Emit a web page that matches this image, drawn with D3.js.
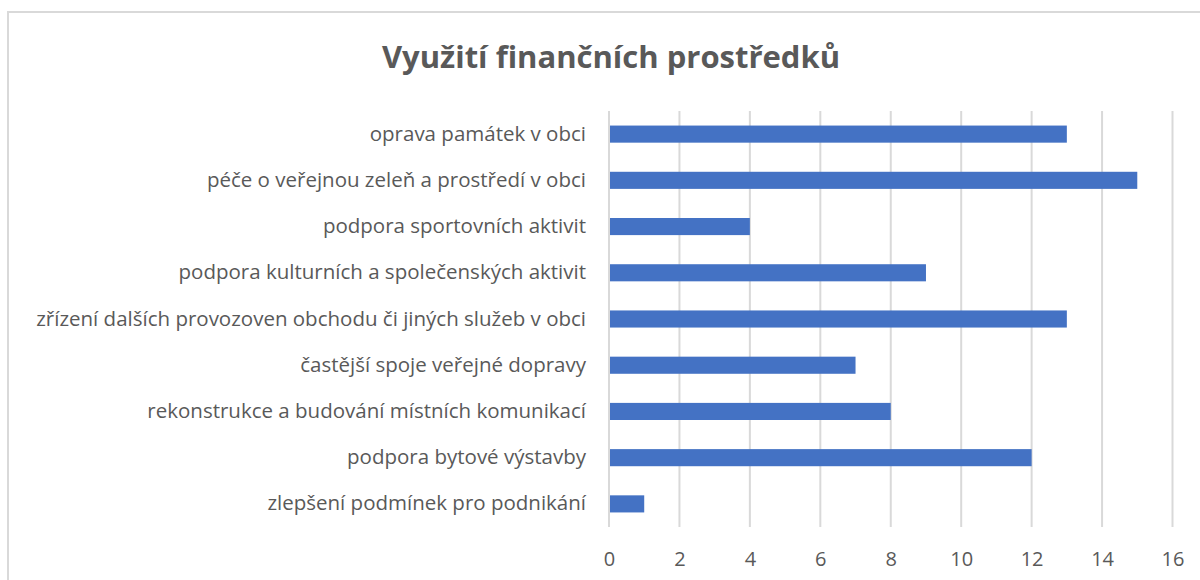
<!DOCTYPE html>
<html lang="cs">
<head>
<meta charset="UTF-8">
<script src="https://d3js.org/d3.v7.min.js"></script>
<style>
body {margin: 0; background: white;}
svg {display: block;}
.tick text {font-family: "Open Sans", sans-serif; fill: #595959;}
</style>
</head>
<body>
<svg width="1200" height="580"></svg>
<script>
// data, top to bottom
var categories = [
    "oprava památek v obci",
    "péče o veřejnou zeleň a prostředí v obci",
    "podpora sportovních aktivit",
    "podpora kulturních a společenských aktivit",
    "zřízení dalších provozoven obchodu či jiných služeb v obci",
    "častější spoje veřejné dopravy",
    "rekonstrukce a budování místních komunikací",
    "podpora bytové výstavby",
    "zlepšení podmínek pro podnikání"
];
var values = [13, 15, 4, 9, 13, 7, 8, 12, 1];
var xTicks = [0, 2, 4, 6, 8, 10, 12, 14, 16];
var title = "Využití finančních prostředků";

var svg = d3.select("svg");

// chart frame
svg.append("rect")
    .attr("x", 8).attr("y", 12)
    .attr("width", 1200).attr("height", 600)
    .attr("fill", "white")
    .attr("stroke", "#d9d9d9")
    .attr("stroke-width", 2);

var xs = d3.scaleLinear().domain([0, 16]).range([609, 1172.5]);
var ys = d3.scaleBand().domain(categories).range([111, 527])
    .paddingInner(0.63).paddingOuter(0.315);

// gridlines
svg.append("g")
    .selectAll("line")
    .data(xTicks)
    .enter()
    .append("line")
    .attr("x1", function(d) {return xs(d);})
    .attr("x2", function(d) {return xs(d);})
    .attr("y1", 111)
    .attr("y2", 527)
    .attr("stroke", "#d9d9d9")
    .attr("stroke-width", 2);

// bars
svg.append("g")
    .selectAll("rect")
    .data(values)
    .enter()
    .append("rect")
    .attr("x", xs(0) + 1)
    .attr("y", function(d, i) {return ys(categories[i]);})
    .attr("width", function(d) {return xs(d) - xs(0) - 1;})
    .attr("height", ys.bandwidth())
    .attr("fill", "#4472c4");

// x axis labels
var xAxis = svg.append("g")
    .attr("transform", "translate(0," + 527 + ")")
    .call(d3.axisBottom(xs).tickValues(xTicks).tickSize(0).tickPadding(25));
xAxis.select(".domain").remove();
xAxis.selectAll("text").style("font-size", "20px");

// y axis labels
var yAxis = svg.append("g")
    .attr("transform", "translate(" + 609 + ",0)")
    .call(d3.axisLeft(ys).tickSize(0).tickPadding(23));
yAxis.select(".domain").remove();
yAxis.selectAll("text").style("font-size", "20.5px");

svg.append("text")
    .attr("x", 611)
    .attr("y", 68)
    .attr("text-anchor", "middle")
    .style("font-family", "'Open Sans', sans-serif")
    .style("font-weight", "bold")
    .style("font-size", "31px")
    .style("fill", "#595959")
    .text(title);
</script>
</body>
</html>
